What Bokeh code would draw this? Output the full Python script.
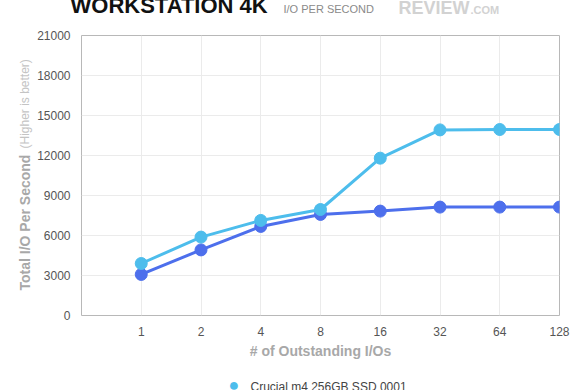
from bokeh.plotting import figure
from bokeh.models import (Range1d, FixedTicker, Title, ColumnDataSource)
from bokeh.embed import file_html
from bokeh.resources import INLINE

# ---- data ----
outstanding_ios = ["1", "2", "4", "8", "16", "32", "64", "128"]
crucial_m4 = [3900, 5880, 7130, 7950, 11800, 13920, 13950, 13950]
second_drive = [3080, 4920, 6680, 7580, 7830, 8130, 8130, 8130]
y_ticks = [0, 3000, 6000, 9000, 12000, 15000, 18000, 21000]

series_name = "Crucial m4 256GB SSD 0001"
light_blue = "#4dbdec"
dark_blue = "#4d6fec"
FONT = "Liberation Sans"

xs = list(range(1, len(outstanding_ios) + 1))
src = ColumnDataSource(dict(x=xs, a=crucial_m4, b=second_drive))

p = figure(width=580, height=390, output_backend="svg", toolbar_location=None,
           x_range=Range1d(0, len(outstanding_ios)), y_range=Range1d(0, 21000),
           min_border_left=81, min_border_right=21, min_border_top=35, min_border_bottom=75)

p.background_fill_color = "white"
p.border_fill_color = "white"
p.outline_line_color = "#b8b8b8"
p.outline_line_width = 1

p.xgrid.ticker = FixedTicker(ticks=xs)
p.ygrid.ticker = FixedTicker(ticks=y_ticks)
p.grid.grid_line_color = "#ebebeb"
p.grid.grid_line_width = 1

for ax in (p.xaxis[0], p.yaxis[0]):
    ax.axis_line_color = None
    ax.major_tick_line_color = None
    ax.minor_tick_line_color = None
    ax.major_tick_out = 0
    ax.major_tick_in = 0
    ax.minor_tick_out = 0
    ax.major_label_text_font = FONT
    ax.major_label_text_font_size = "12px"
    ax.major_label_text_color = "#555555"
p.yaxis.major_label_standoff = 11
p.xaxis.major_label_standoff = 11

p.xaxis.ticker = FixedTicker(ticks=xs)
p.xaxis.major_label_overrides = {i: lbl for i, lbl in zip(xs, outstanding_ios)}
p.yaxis.ticker = FixedTicker(ticks=y_ticks)
p.xaxis.axis_label = "# of Outstanding I/Os"
p.xaxis.axis_label_text_font = FONT
p.xaxis.axis_label_text_font_style = "bold"
p.xaxis.axis_label_text_font_size = "14px"
p.xaxis.axis_label_text_color = "#a8a8a8"
p.xaxis.axis_label_standoff = 4

p.line("x", "b", source=src, line_color=dark_blue, line_width=3)
p.line("x", "a", source=src, line_color=light_blue, line_width=3)
p.scatter("x", "b", source=src, size=12, fill_color=dark_blue, line_color=dark_blue)
p.scatter("x", "a", source=src, size=12, fill_color=light_blue, line_color=light_blue)

# ---- texts outside the frame, as side-panel titles ----
def title(side, **kw):
    kw.setdefault("text_font", FONT)
    kw.setdefault("align", "left")
    p.add_layout(Title(**kw), side)

title("above", text="WORKSTATION 4K", text_font_style="bold", text_font_size="22px",
      text_color="#111111", offset=-11, standoff=-86, vertical_align="top")
title("above", text="I/O PER SECOND", text_font_style="normal", text_font_size="11px",
      text_color="#8a8a8a", offset=202, standoff=-66, vertical_align="top")
title("above", text="REVIEW", text_font_style="bold", text_font_size="18px",
      text_color="#d2d2d2", offset=317, standoff=-75, vertical_align="top")
title("above", text=".COM", text_font_style="bold", text_font_size="11px",
      text_color="#d2d2d2", offset=389, standoff=-63, vertical_align="top")

title("left", text="Total I/O Per Second", text_font_style="bold", text_font_size="14px",
      text_color="#a8a8a8", offset=25, standoff=4, vertical_align="bottom")
title("left", text="(Higher is better)", text_font_style="normal", text_font_size="12px",
      text_color="#c4c4c4", offset=167, standoff=-39, vertical_align="bottom")

# legend entry (top of it visible at the bottom edge, as in the reference)
title("below", text="\u25cf", text_font=FONT, text_font_style="normal", text_font_size="18px",
      text_color=light_blue, offset=147, standoff=-66, vertical_align="bottom")
title("below", text=series_name, text_font_style="normal", text_font_size="12px",
      text_color="#444444", offset=169, standoff=-65, vertical_align="bottom")

open("out.html", "w").write(file_html(p, INLINE))
